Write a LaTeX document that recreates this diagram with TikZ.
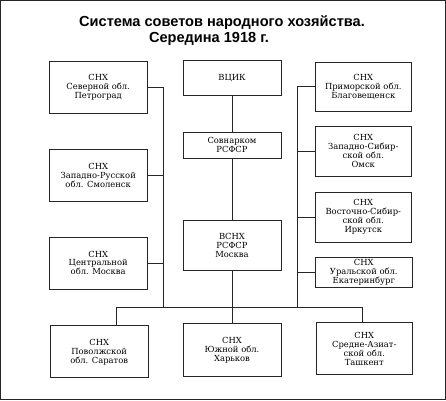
\documentclass[tikz,border=0pt]{standalone}
\usepackage{fontspec}
\setmainfont{DejaVu Serif}
\newfontfamily\titlefont{Liberation Sans}
\begin{document}
\begin{tikzpicture}[x=1pt, y=-1pt,
    every path/.style={line width=0.7pt, draw=black!85},
    box/.style={draw, align=center, inner sep=0pt, minimum width=98pt,
      font=\fontsize{8.4}{9}\selectfont},
    title/.style={font=\titlefont\bfseries\fontsize{14.6}{16}\selectfont}]
  \useasboundingbox (0,0) rectangle (446,400);

  \node[title] (t1) at (222,22) {Система советов народного хозяйства.};
  \node[title] (t2) at (209,38.5) {Середина 1918 г.};

  \node[box, minimum height=52pt] (sever) at (98,87) {СНХ\\Северной обл.\\Петроград};
  \node[box, minimum height=52pt] (zapad) at (98,175) {СНХ\\Западно-Русской\\обл. Смоленск};
  \node[box, minimum height=52pt] (centr) at (98,263) {СНХ\\Центральной\\обл. Москва};

  \node[box, minimum height=35pt] (vcik) at (232,77.5) {ВЦИК};
  \node[box, minimum height=26pt] (snk) at (232,145) {Совнарком\\РСФСР};
  \node[box, minimum height=50pt] (vsnh) at (232,245) {ВСНХ\\РСФСР\\Москва};

  \node[box, minimum width=97pt, minimum height=49pt] (prim) at (363.5,86.5) {СНХ\\Приморской обл.\\Благовещенск};
  \node[box, minimum width=97pt, minimum height=50pt] (zsib) at (363.5,151) {СНХ\\Западно-Сибир-\\ской обл.\\Омск};
  \node[box, minimum width=97pt, minimum height=50pt] (vsib) at (363.5,217) {СНХ\\Восточно-Сибир-\\ской обл.\\Иркутск};
  \node[box, minimum height=30pt] (ural) at (364,272) {СНХ\\Уральской обл.\\Екатеринбург};

  \node[box, minimum height=52pt] (povol) at (99,352) {СНХ\\Поволжской\\обл. Саратов};
  \node[box, minimum height=53pt] (yug) at (232,350.5) {СНХ\\Южной обл.\\Харьков};
  \node[box, minimum width=97pt, minimum height=52pt] (sredaz) at (364.5,349) {СНХ\\Средне-Азиат-\\ской обл.\\Ташкент};

  \coordinate (lbus) at (163,307);
  \coordinate (rbus) at (297,307);
  \coordinate (bl) at (116,307);
  \coordinate (br) at (363,307);

  \draw (sever.east) -| (lbus);
  \draw (zapad.east) -- (zapad.east -| lbus);
  \draw (centr.east) -- (centr.east -| lbus);

  \draw (prim.west) -| (rbus);
  \draw (zsib.west) -- (zsib.west -| rbus);
  \draw (vsib.west) -- (vsib.west -| rbus);
  \draw (ural.west) -- (ural.west -| rbus);

  \draw (vcik) -- (snk);
  \draw (snk) -- (vsnh);
  \draw (vsnh) -- (vsnh |- bl);

  \draw (bl) -- (br);
  \draw (bl) -- (bl |- povol.north);
  \draw (yug.north |- bl) -- (yug.north);
  \draw (br) -- (br |- sredaz.north);
\end{tikzpicture}
\end{document}
